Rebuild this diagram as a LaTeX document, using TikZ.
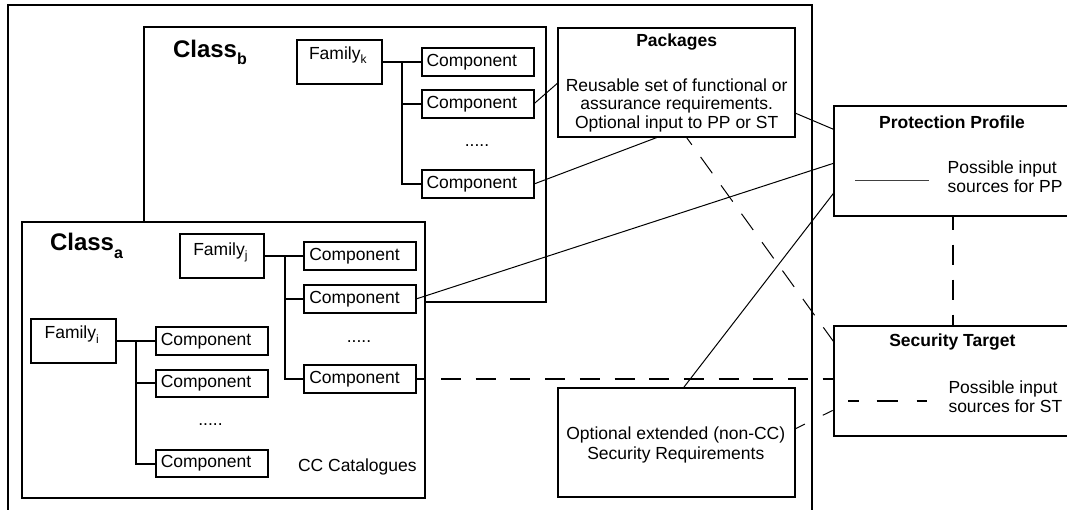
\documentclass[tikz,border=0pt]{standalone}
\usepackage{fontspec}
\setmainfont{Liberation Sans}
\usetikzlibrary{calc}
\newcommand\myfs{\fontsize{17.5}{20}\selectfont}
\newcommand\mysubsc[3]{\raisebox{-#1}{\fontsize{#2}{#2}\selectfont #3}}
\begin{document}
\begin{tikzpicture}[x=1pt,y=-1pt,
  every node/.style={inner sep=0pt,outer sep=0pt,font=\myfs},
  box/.style={draw,line width=2pt,fill=white},
  comp/.style={box,minimum width=112pt,minimum height=27.5pt,text width=102pt,align=left},
  fam/.style={box,minimum width=84.6pt,minimum height=44pt},
  tree/.style={line width=2pt},
  conn/.style={line width=1pt},
  dthick/.style={line width=2pt,dash pattern=on 20pt off 14.7pt},
  dthin/.style={line width=1pt,dash pattern=on 20pt off 15pt},
  lbl/.style={anchor=base west},
  clbl/.style={anchor=base},
  title/.style={anchor=base,font=\myfs\bfseries},
  classlbl/.style={anchor=base west,font=\fontsize{24}{24}\selectfont\bfseries}]
\useasboundingbox (0,0) rectangle (1067,510);
% outer frame (open at the bottom)
\draw[line width=2pt] (7.5,512) -- (7.5,5) -- (811.8,5) -- (811.8,512);

% class boxes
\node[box,minimum width=402.6pt,minimum height=275.6pt] (clb) at (345.1,164.5) {};
\node[box,minimum width=403pt,minimum height=276pt] (cla) at (223.5,359.7) {};
\node[classlbl] (clbT) at (173,57.3) {Class\mysubsc{7pt}{16}{b}};
\node[classlbl] (claT) at (50,250.7) {Class\mysubsc{7.5pt}{16}{a}};

% class b content
\node[fam] (fk) at (339.75,62) {};
\node[lbl] (fkT) at (309,59.3) {Family\mysubsc{4.5pt}{12}{k}};
\node[comp] (b1) at (477.5,62) {Component};
\node[comp] (b2) at (477.5,104.2) {Component};
\node[comp] (b3) at (477.5,184.2) {Component};
\node[clbl] (db) at (477,146.5) {.....};
\coordinate (tk) at (402,62);
\draw[tree] (fk.east) -- (b1.west);
\draw[tree] (tk) |- (b3.west);
\draw[tree] (tk |- b2.west) -- (b2.west);

% class a content
\node[fam] (fj) at (221.95,256) {};
\node[lbl] (fjT) at (193.3,255.5) {Family\mysubsc{4.5pt}{12}{j}};
\node[comp] (j1) at (360.3,256) {Component};
\node[comp] (j2) at (360.3,298.9) {Component};
\node[comp] (j3) at (360.3,378.9) {Component};
\node[clbl] (dj) at (359,342.5) {.....};
\coordinate (tj) at (284.6,256);
\draw[tree] (fj.east) -- (j1.west);
\draw[tree] (tj) |- (j3.west);
\draw[tree] (tj |- j2.west) -- (j2.west);

\node[fam] (fi) at (73.7,341) {};
\node[lbl] (fiT) at (44.6,338.5) {Family\mysubsc{4.5pt}{12}{i}};
\node[comp] (i1) at (211.8,341) {Component};
\node[comp] (i2) at (211.8,383.4) {Component};
\node[comp] (i3) at (211.8,463.5) {Component};
\node[clbl] (di) at (210.5,425) {.....};
\coordinate (ti) at (135.7,341);
\draw[tree] (fi.east) -- (i1.west);
\draw[tree] (ti) |- (i3.west);
\draw[tree] (ti |- i2.west) -- (i2.west);

\node[lbl] (cat) at (298,471.7) {CC Catalogues};

% packages
\node[box,minimum width=236.7pt,minimum height=108.4pt] (pkg) at (676.65,82.5) {};
\node[title] (pkgT) at (676.65,46.7) {Packages};
\node[clbl] (pkg1) at (676.65,91.7) {Reusable set of functional or};
\node[clbl] (pkg2) at (676.65,110) {assurance requirements.};
\node[clbl] (pkg3) at (676.65,128.5) {Optional input to PP or ST};

% protection profile
\node[box,minimum width=238.5pt,minimum height=109.9pt] (pp) at (952.75,160.75) {};
\node[title] (ppT) at (952,128.3) {Protection Profile};
\node[lbl] (pp1) at (947.7,173.2) {Possible input};
\node[lbl] (pp2) at (947.7,192.2) {sources for PP};
\coordinate (lgA1) at (855,180.7);
\coordinate (lgA2) at (929,180.7);
\draw[line width=1pt,black!75] (lgA1) -- (lgA2);

% security target
\node[box,minimum width=238.5pt,minimum height=110pt] (st) at (952.75,380.7) {};
\node[title] (stT) at (952.3,346) {Security Target};
\node[lbl] (st1) at (948.5,393) {Possible input};
\node[lbl] (st2) at (948.5,412.7) {sources for ST};
\coordinate (lgB1) at (848.3,400.7);
\coordinate (lgB2) at (926.7,400.7);
\draw[line width=2pt,dash pattern=on 11pt off 17.4pt on 21.6pt off 18.4pt on 10pt] (lgB1) -- (lgB2);

% optional extended requirements
\node[box,minimum width=236.7pt,minimum height=108.5pt] (opt) at (676.65,442.6) {};
\node[clbl] (opt1) at (675.8,439.3) {Optional extended (non-CC)};
\node[clbl] (opt2) at (675.8,459.3) {Security Requirements};

% solid connectors (PP sources)
\draw[conn] (b2.east) -- (pkg.west);
\draw[conn] (b3.east) -- ($(pkg.south west)+(100.7,0)$);
\draw[conn] ($(pkg.south east)+(0,-23.7)$) -- ($(pp.north west)+(0,23.5)$);
\draw[conn] (j2.east) -- ($(pp.north west)+(0,57.5)$);
\draw[conn] ($(opt.north west)+(124.7,0)$) -- ($(pp.north west)+(0,87.5)$);

% dashed connectors (ST sources)
\draw[dthin,dash phase=10pt] ($(pkg.south west)+(127.7,0)$) -- ($(st.north west)+(0,15.8)$);
\draw[dthick,dash phase=10pt] (j3.east) -- (j3.east -| st.west);
\draw[line width=1pt,dash pattern=on 11pt off 20pt] ($(opt.north east)+(0,40.6)$) -- ($(st.north west)+(0,84.3)$);
\draw[line width=2pt,dash pattern=on 20pt off 15pt,dash phase=6pt] (pp.south) -- (st.north);
\end{tikzpicture}
\end{document}
